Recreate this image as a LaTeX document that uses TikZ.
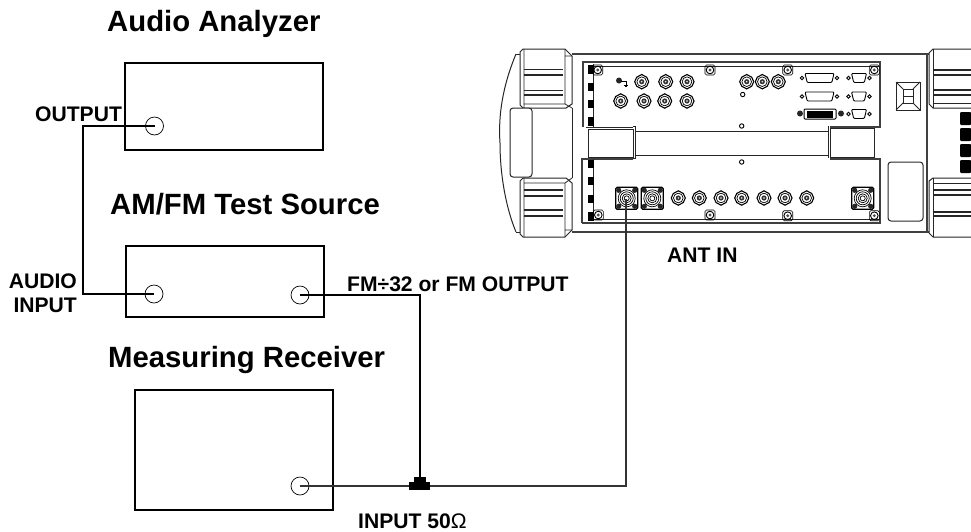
\documentclass[tikz,border=0pt]{standalone}
\usepackage{fontspec}
\setmainfont{Liberation Sans}
\usetikzlibrary{shapes.geometric,calc}
\tikzset{
 x=1pt,y=-1pt,
 box/.style={draw,line width=1.5pt,minimum width=#1,inner sep=0pt},
 port/.style={circle,draw,line width=0.7pt,minimum size=18pt,inner sep=0pt},
 wire/.style={line width=1.6pt},
 thinwire/.style={line width=1.1pt,draw=black!80},
 head/.style={font=\fontsize{29.3}{32}\selectfont\bfseries,inner sep=0pt,anchor=base west},
 lab/.style={font=\fontsize{21.1}{24.7}\selectfont\bfseries,inner sep=0pt,anchor=base west},
 hw/.style={line width=0.8pt,draw=black!85},
 hwf/.style={line width=0.8pt,draw=black!85,fill=white},
 hwb/.style={line width=1.6pt,draw=black!75},
}
\newcommand{\bnc}[2]{%
 \begin{scope}[shift={(#1,#2)}]
 \draw[line width=1.1pt,fill=white] (-5,-4.5) -- (0,-7.2) -- (5,-4.5) -- (7,0) -- (5,4.5) -- (0,7.2) -- (-5,4.5) -- (-7,0) -- cycle;
 \draw[line width=0.7pt] (0,0) circle[radius=4.8];
 \fill[black!80] (0,0) circle[radius=2.6];
 \fill[white] (0,0) circle[radius=0.8];
 \end{scope}}
\newcommand{\screw}[2]{%
 \begin{scope}[shift={(#1,#2)}]
 \draw[line width=0.6pt,rounded corners=1.5pt] (-5,-5) rectangle (5,5);
 \draw[line width=0.9pt] (0,0) circle[radius=3.8];
 \fill[black!70] (0,0) circle[radius=1.6];
 \end{scope}}
\newcommand{\smallc}[2]{\draw[line width=0.9pt,fill=white] (#1,#2) circle[radius=2.2];}
\newcommand{\typen}[2]{%
 \begin{scope}[shift={(#1,#2)}]
 \draw[line width=1.3pt,fill=white,rounded corners=1.5pt] (-11,-11) rectangle (11,11);
 \foreach \a/\b in {-8/-8,8/-8,-8/8,8/8}{\fill[black!85] (\a,\b) circle[radius=2.6];}
 \foreach \r in {8.5,6.5,4.5,2.5}{\draw[line width=0.7pt] (0,0) circle[radius=\r];}
 \end{scope}}
\newcommand{\dsub}[3]{% x y halfwidth
 \begin{scope}[shift={(#1,#2)}]
 \draw[line width=0.9pt,fill=white,rounded corners=1pt] (-#3,-4.5) -- (#3,-4.5) -- (#3-2.2,4.5) -- (-#3+2.2,4.5) -- cycle;
 \draw[line width=0.9pt,fill=white] (-#3-3,0) circle[radius=1.7] (#3+3,0) circle[radius=1.7];
 \end{scope}}
\begin{document}
\begin{tikzpicture}
\useasboundingbox (0,0) rectangle (971,531);

% --- instrument ---
\draw[hw,line width=1pt] (516,54) .. controls (503,85) and (498,115) .. (500,143) .. controls (500,175) and (506,208) .. (516,232);
\draw[hw,line width=1pt] (516,54) -- (520,54) (516,232) -- (520,232);
\draw[hwb] (572,54) -- (929,54) (572,232) -- (929,232);
\draw[hw,line width=1pt] (572,108) -- (572,178);
\draw[hwb] (927,54) -- (927,232);

% left bumpers
\draw[hwf,line width=1pt] (520,52) -- (523,49) -- (565,49) -- (572,56) -- (572,104) -- (566,108) -- (523,108) -- (520,105) -- cycle;
\draw[hw] (524,49) -- (524,108) (565,49) -- (565,104) -- (524,104) (565,104) -- (572,108) (565,56) -- (572,56);
\draw[hw,line width=1.2pt] (524,69.5) -- (563,69.5) (524,75) -- (563,75) (524,90.5) -- (563,90.5) (524,95) -- (563,95);
\draw[hwf,line width=1pt] (520,181) -- (523,178) -- (566,178) -- (572,183) -- (572,230) -- (565,237) -- (523,237) -- (520,234) -- cycle;
\draw[hw] (524,178) -- (524,237) (565,237) -- (565,183) -- (524,183) (565,183) -- (572,178) (565,230) -- (572,230);
\draw[hw,line width=1.2pt] (524,190) -- (563,190) (524,196) -- (563,196) (524,210) -- (563,210) (524,216) -- (563,216);
\draw[hwf,line width=1pt,rounded corners=3pt] (510,108) rectangle (532,177);

% right bumpers
\draw[hwf,line width=1pt] (971,49) -- (933,49) -- (929,53) -- (929,104) -- (933,108) -- (971,108);
\draw[hw] (933,49) -- (933,108) (933,103) -- (971,103);
\draw[hw,line width=1.2pt] (933,70) -- (971,70) (933,75) -- (971,75) (933,90) -- (971,90) (933,95) -- (971,95);
\draw[hwf,line width=1pt] (971,178) -- (933,178) -- (929,181) -- (929,233) -- (933,237) -- (971,237);
\draw[hw] (933,178) -- (933,237) (933,183) -- (971,183);
\draw[hw,line width=1.2pt] (933,190) -- (971,190) (933,195) -- (971,195) (933,212) -- (971,212) (933,216) -- (971,216);
\foreach \y in {112,128,144,160}{\fill[black,rounded corners=1pt] (960,\y) rectangle (971,\y+13);}

% switch and blank plate
\draw[hw,line width=1pt] (896,82) rectangle (920,110);
\draw[hw] (896,82) -- (903,89) (920,82) -- (913,89) (896,110) -- (903,103) (920,110) -- (913,103);
\draw[hw] (903,89) rectangle (913,103) (903,96) -- (913,96);
\draw[hw,line width=1pt,rounded corners=3pt] (888,162) rectangle (923,221);

% panels
\draw[hwb] (583,127) -- (583,62) -- (880,62) -- (880,127) -- (830,127);
\draw[hw] (593,66) -- (880,66);
\draw[hw] (586,127) -- (633,127);
\draw[hw] (593,64) -- (593,127);
\draw[hwb] (582,223) -- (582,159) -- (633,159);
\draw[hwb] (830,159) -- (880,159) -- (880,223) -- (582,223);
\draw[hw] (593,159) -- (593,219) -- (880,219);
\foreach \y/\h in {65/9,83/8,100/8,117/9}{\fill[black] (588,\y) rectangle (594,\y+\h);}
\foreach \y/\h in {160/8,177/8,195/8,212/9}{\fill[black] (588,\y) rectangle (594,\y+\h);}

% carrying handle
\draw[hw,line width=1pt] (635,131) -- (828,131) (635,155) -- (828,155);
\draw[hw] (633,126) -- (635,126) -- (635,158) -- (633,158);
\draw[hw,line width=1pt] (588,129) rectangle (633,157);
\draw[hw] (828,126) -- (828,158);
\draw[hw,line width=1pt] (830,128) rectangle (874,157);

% connectors on panel
\fill[black!85] (619,80.5) circle[radius=3];
\draw[line width=0.8pt] (621,81) -- (626,81) -- (626,85) (624,85) -- (628,85) (625,86.5) -- (627,86.5);
\foreach \x in {641.7,665.7,687,746.7,762.3,778.3}{\bnc{\x}{81.7}}
\foreach \x in {620.7,644,664.7,687}{\bnc{\x}{101}}
\foreach \x in {678.3,699.3,721,741.7,764,785,806.7}{\bnc{\x}{198}}
\foreach \x/\y in {597.7/70,710/70,787.7/70,874.3/70,598.3/215,710/215,787.7/215.7,874.3/215.7}{\screw{\x}{\y}}
\smallc{742.7}{94.5}\smallc{741.7}{126}\smallc{741.7}{162}
\dsub{819.5}{78}{14.5}\dsub{819.5}{96.5}{14.5}
\dsub{859}{78}{7.5}\dsub{859}{96.5}{7.5}\dsub{859}{114}{7.5}
\draw[line width=1pt,fill=white,rounded corners=1pt] (804,109) rectangle (836,119);
\fill[black] (807,110.5) rectangle (833,117.5);
\fill[black!85] (800,113.5) circle[radius=3] (841,113.5) circle[radius=3];
\typen{626.7}{198.3}\typen{652.3}{198.3}\typen{862.7}{198.3}

% --- bench instruments ---
\node[box=198pt,minimum height=87pt] (aa) at (224,106.5) {};
\node[box=198pt,minimum height=71pt] (ts) at (225,281.5) {};
\node[box=198pt,minimum height=120pt] (mr) at (234,450) {};
\node[port] (p1) at (154.5,126) {};
\node[port] (p2) at (154,294) {};
\node[port] (p3) at (300,295) {};
\node[port] (p4) at (300,486) {};
\coordinate (antin) at (626,199);
\coordinate (tee) at (420,486);

\draw[wire] (p1.center) -- (83,126) -- (83,294) -- (p2.center);
\draw[wire] (p3.center) -- (420,295) -- (tee);
\draw[thinwire] (p4.center) -- (tee) -- (626,486) -- (antin);
\fill[black] (409,482) rectangle (430,490);
\fill[black] (414,477) rectangle (426,482);

% --- labels ---
\node[head] (t1) at (107,31) {Audio Analyzer};
\node[head] (t2) at (110,214) {AM/FM Test Source};
\node[head] (t3) at (108,367) {Measuring Receiver};
\node[lab] (l1) at (35,121) {OUTPUT};
\node[lab,anchor=base east] (l2) at (77,288) {AUDIO};
\node[lab,anchor=base east] (l2b) at (77,312.5) {INPUT};
\node[lab] (l3) at (347,291) {FM÷32 or FM OUTPUT};
\node[lab] (l4) at (667,262.5) {ANT IN};
\node[lab] (l5) at (358,528) {INPUT 50{\fontseries{m}\selectfont Ω}};
\end{tikzpicture}
\end{document}
